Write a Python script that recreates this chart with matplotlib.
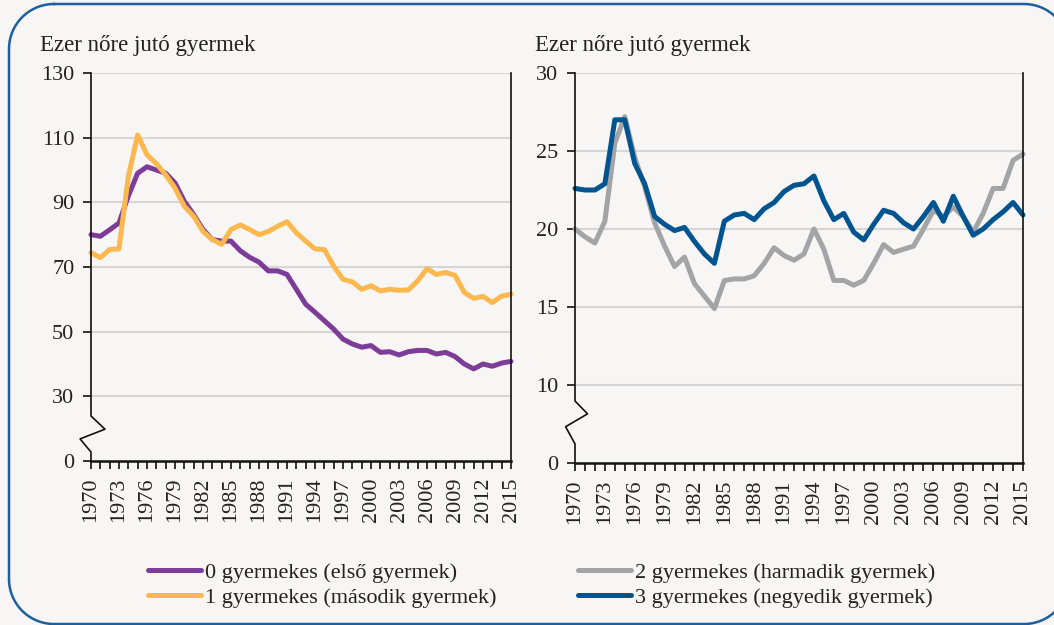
import matplotlib
matplotlib.use('Agg')
import matplotlib.pyplot as plt
from matplotlib.lines import Line2D
import numpy as np

years = list(range(1970, 2016))

# left panel: 0 and 1 child women
first_child = [80, 79.5, 81.5, 83.6, 92, 99, 101, 100, 99, 96,
               90.3, 86.2, 81.6, 78.5, 78, 78, 75, 73, 71.5, 68.8,
               68.8, 67.7, 63.1, 58.5, 56, 53.4, 50.8, 47.7, 46.2, 45.2,
               45.7, 43.6, 43.8, 42.8, 43.8, 44.2, 44.2, 43.1, 43.6, 42.3,
               40, 38.5, 40, 39.3, 40.3, 40.8]
second_child = [74.4, 72.9, 75.4, 75.6, 98, 110.8, 104.7, 102, 98.5, 94.4,
                88.8, 85.7, 81, 78.5, 77, 81.6, 83, 81.6, 80, 81,
                82.6, 84, 80.6, 78, 75.6, 75.4, 70.3, 66.2, 65.4, 63.1,
                64.2, 62.6, 63.1, 62.8, 62.9, 65.7, 69.5, 67.7, 68.3, 67.4,
                62.1, 60.3, 60.9, 59, 61, 61.6]

# right panel: 2 and 3 children women
third_child = [20, 19.5, 19.1, 20.5, 25.5, 27.2, 24.6, 22.7, 20.4, 18.9,
               17.6, 18.2, 16.5, 15.7, 14.9, 16.7, 16.8, 16.8, 17, 17.8,
               18.8, 18.3, 18, 18.4, 20, 18.7, 16.7, 16.7, 16.4, 16.7,
               17.8, 19, 18.5, 18.7, 18.9, 20, 21.2, 20.8, 21.4, 20.8,
               19.8, 21, 22.6, 22.6, 24.4, 24.8]
fourth_child = [22.6, 22.5, 22.5, 22.9, 27, 27, 24.2, 22.9, 20.8, 20.3,
                19.9, 20.1, 19.2, 18.4, 17.8, 20.5, 20.9, 21, 20.6, 21.3,
                21.7, 22.4, 22.8, 22.9, 23.4, 21.8, 20.6, 21, 19.8, 19.3,
                20.3, 21.2, 21, 20.4, 20, 20.8, 21.7, 20.5, 22.1, 20.8,
                19.6, 20, 20.6, 21.1, 21.7, 20.9]

left_ticks = [0, 30, 50, 70, 90, 110, 130]
right_ticks = [0, 10, 15, 20, 25, 30]

labels = ['0 gyermekes (első gyermek)', '1 gyermekes (második gyermek)',
          '2 gyermekes (harmadik gyermek)', '3 gyermekes (negyedik gyermek)']
colors = ['#7d3c98', '#fbb84f', '#a2a4a6', '#00548f']

bg = '#f7f6f4'
txt = '#222222'
plt.rcParams['font.family'] = ['Liberation Serif', 'DejaVu Serif']
plt.rcParams['font.size'] = 16


def broken(cut, step):
    # 0 -> cut squeezed to one tick step, then linear
    def fwd(v):
        v = np.asarray(v, dtype=float)
        return np.where(v < cut, v / cut, 1 + (v - cut) / step)

    def inv(p):
        p = np.asarray(p, dtype=float)
        return np.where(p < 1, p * cut, cut + (p - 1) * step)
    return fwd, inv


W, H = 1054, 625
fig = plt.figure(figsize=(W / 100, H / 100), dpi=100)
fig.patch.set_facecolor(bg)

# rounded frame (pixel coords, y from top), runs off right/bottom edge
r = 45
x0, x1, y0, y1 = 9, 1069, 4, 624
corners = [(x0 + r, y0 + r, 90, 180), (x0 + r, y1 - r, 180, 270),
           (x1 - r, y1 - r, 270, 360), (x1 - r, y0 + r, 0, 90)]
fx, fy = [], []
for cx, cy, a, b in corners:
    t = np.radians(np.linspace(a, b, 30))
    fx += list(cx + r * np.cos(t))
    fy += list(cy - r * np.sin(t))
fx.append(fx[0])
fy.append(fy[0])
frame = Line2D(np.array(fx) / W, 1 - np.array(fy) / H, transform=fig.transFigure,
               color='#1f5f9e', lw=1.8, zorder=-1)
frame.set_clip_box(fig.bbox)
fig.add_artist(frame)

axL = fig.add_axes([91 / W, (H - 461) / H, 420 / W, 388 / H])
axR = fig.add_axes([575 / W, (H - 463) / H, 448 / W, 390 / H])

panels = [
    (axL, [first_child, second_child], colors[:2], labels[:2], left_ticks, broken(30, 20),
     [(0, 0.116), (0.0333, 0.082), (-0.026, 0.057), (0, 0.023), (0, 0)], 40),
    (axR, [third_child, fourth_child], colors[2:], labels[2:], right_ticks, broken(10, 5),
     [(0, 0.159), (0.028, 0.126), (-0.021, 0.093), (0, 0.049), (0, 0)], 535),
]

handles = []
for ax, series, cols, labs, yt, funcs, zz, tx in panels:
    ax.set_facecolor(bg)
    ax.set_yscale('function', functions=funcs)
    for s, c, l in zip(series, cols, labs):
        h, = ax.plot(years, s, color=c, lw=3.6, label=l,
                     solid_joinstyle='round', solid_capstyle='round', clip_on=False)
        handles.append(h)
    ax.set_ylim(yt[0], yt[-1])
    ax.set_xlim(1970, 2015)
    ax.set_yticks(yt)
    ax.set_yticklabels([str(t) for t in yt])
    for t in yt[1:]:
        ax.axhline(t, color='#d6d6d6', lw=1.5, zorder=0)
    ax.set_xticks(years)
    ax.set_xticklabels([str(y) if (y - 1970) % 3 == 0 else '' for y in years],
                       rotation=90)
    ax.tick_params(axis='x', direction='out', length=6, width=1.2, colors='#111111',
                   labelcolor=txt, pad=6)
    ax.tick_params(axis='y', direction='out', length=6, width=1.2, colors='#111111',
                   labelcolor=txt, pad=6)
    ax.spines['top'].set_visible(False)
    ax.spines['left'].set_visible(False)
    ax.spines['bottom'].set_linewidth(1.8)
    ax.spines['right'].set_linewidth(1.2)
    ax.spines['bottom'].set_color('#111111')
    ax.spines['right'].set_color('#111111')
    # y axis line with break mark
    pts = [(0, 1)] + zz
    ax.plot([p[0] for p in pts], [p[1] for p in pts], transform=ax.transAxes,
            color='#111111', lw=1.2, clip_on=False, zorder=5)
    fig.text(tx / W, (H - 45) / H, 'Ezer nőre jutó gyermek', color=txt,
             fontsize=16.5, va='center', ha='left')

for hs, ls, lx in [(handles[:2], labels[:2], 148), (handles[2:], labels[2:], 578)]:
    fig.legend(hs, ls, loc='upper left', bbox_to_anchor=(lx / W, (H - 562) / H),
               frameon=False, handlelength=2.4, handletextpad=0.15, borderpad=0,
               borderaxespad=0, labelspacing=0.22, labelcolor=txt)

fig.savefig('out.png', dpi=100, facecolor=bg)
